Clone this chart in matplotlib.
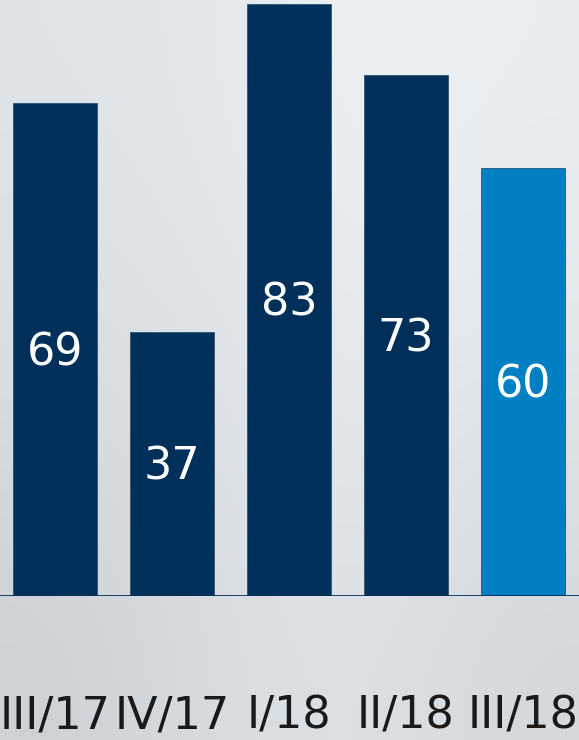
import numpy as np
import matplotlib.pyplot as plt
from matplotlib.colors import to_rgb

# quarterly figures, last quarter highlighted
quarters = ["III/17", "IV/17", "I/18", "II/18", "III/18"]
values   = [69, 37, 83, 73, 60]

NAVY  = "#00305a"
BLUE  = "#0080c3"
TEXT  = "#1a1a1a"
colors = [NAVY, NAVY, NAVY, NAVY, BLUE]

# brushed-metal backdrop: coarse colour grid, smoothed by interpolation
bg_grid = [
    ["#dfe4e8", "#e3e7eb", "#eef2f5", "#eaeef1"],
    ["#d9dee3", "#dde2e6", "#e6eaee", "#e2e6ea"],
    ["#ccd1d6", "#d8dde1", "#dde2e6", "#d3d8dd"],
]

fig = plt.figure(figsize=(5.79, 7.40), dpi=100)

bg_ax = fig.add_axes([0, 0, 1, 1])
bg = np.array([[to_rgb(c) for c in row] for row in bg_grid])
bg_ax.imshow(bg, aspect="auto", interpolation="bicubic", extent=[0, 1, 0, 1])
bg_ax.set_axis_off()

# plotting area: top of figure down to the baseline
ax = fig.add_axes([0, 144 / 740, 1, 596 / 740])
ax.patch.set_alpha(0)

x = np.arange(len(quarters))
ax.bar(x, values, width=0.72, color=colors, edgecolor="#2a5578",
       linewidth=0.6, zorder=2)
ax.axhline(0, color="#0b2f55", lw=2.0, zorder=3)

ax.set_xlim(-0.47, 4.48)
ax.set_ylim(0, 83.5)
for s in ax.spines.values():
    s.set_visible(False)
ax.set_yticks([])
ax.set_xticks([])

# value inside each bar, centred on half its height
for xi, v in zip(x, values):
    ax.annotate(str(v), (xi, v / 2), xytext=(0, -11.5), textcoords="offset points",
                ha="center", va="baseline", color="white", fontsize=32)

# quarter labels under the baseline
for xi, q in zip(x, quarters):
    ax.text(xi, -0.223, q, transform=ax.get_xaxis_transform(),
            ha="center", va="baseline", color=TEXT, fontsize=32)

fig.savefig("out.png", dpi=100)
